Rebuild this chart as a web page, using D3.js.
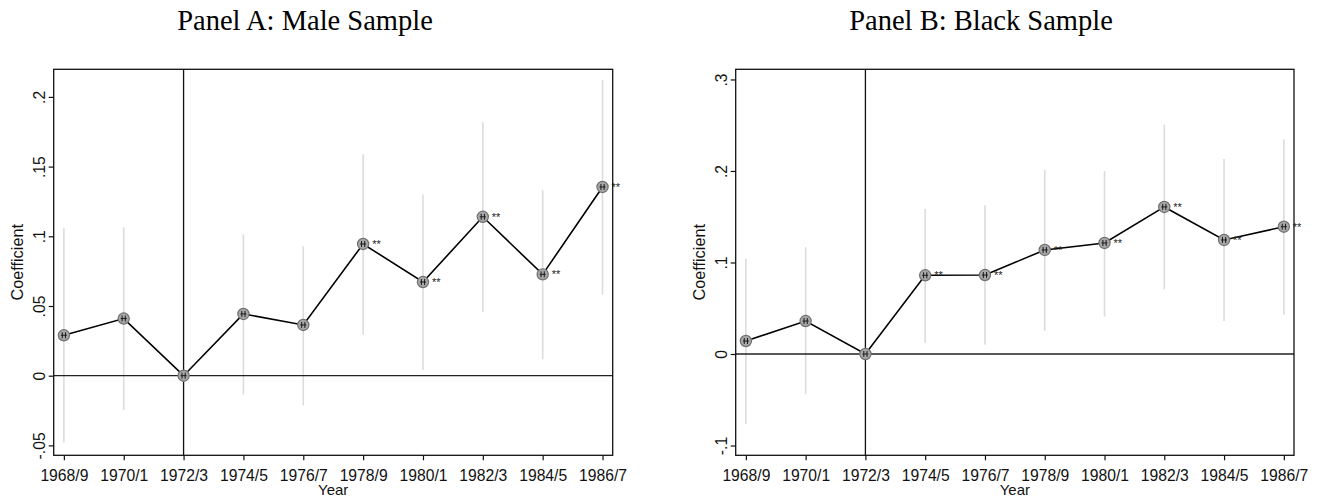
<!DOCTYPE html>
<html>
<head>
<meta charset="utf-8">
<script src="https://cdn.jsdelivr.net/npm/d3@7"></script>
<style>
  body { margin: 0; background: #fff; }
  svg { display: block; }
</style>
</head>
<body>
<svg></svg>
<script>
const svgWidth = 1326
const svgHeight = 500

// data
const years = ["1968/9", "1970/1", "1972/3", "1974/5", "1976/7", "1978/9", "1980/1", "1982/3", "1984/5", "1986/7"]

const maleCoef = [0.029, 0.041, 0, 0.0443, 0.0364, 0.0945, 0.0672, 0.114, 0.0727, 0.1354]
const maleLo = [-0.048, -0.0246, 0, -0.0134, -0.0213, 0.0294, 0.0041, 0.0457, 0.0118, 0.0581]
const maleHi = [0.1057, 0.1065, 0, 0.1014, 0.093, 0.1588, 0.130, 0.1818, 0.1332, 0.2121]
const maleStars = ["", "", "", "", "", "**", "**", "**", "**", "**"]
const maleTicks = [-0.05, 0, 0.05, 0.1, 0.15, 0.2]
const maleTickLabels = ["-.05", "0", ".05", ".1", ".15", ".2"]

const blackCoef = [0.0142, 0.036, 0, 0.086, 0.0863, 0.1137, 0.1213, 0.1607, 0.1246, 0.1391]
const blackLo = [-0.0768, -0.044, 0, 0.0124, 0.0102, 0.0255, 0.0408, 0.0707, 0.036, 0.043]
const blackHi = [0.1042, 0.1166, 0, 0.1585, 0.1625, 0.201, 0.2, 0.2506, 0.2131, 0.2346]
const blackStars = ["", "", "", "**", "**", "**", "**", "**", "**", "**"]
const blackTicks = [-0.1, 0, 0.1, 0.2, 0.3]
const blackTickLabels = ["-.1", "0", ".1", ".2", ".3"]

const sans = "'Liberation Sans', Arial, sans-serif"
const serif = "'Liberation Serif', 'Times New Roman', serif"

const plotTop = 69.3
const plotBottom = 455.3

const panels = [
    {title: "Panel A: Male Sample", coef: maleCoef, lo: maleLo, hi: maleHi, stars: maleStars,
     ticks: maleTicks, tickLabels: maleTickLabels, yDomain: [-0.0571, 0.2198],
     left: 53.7, right: 612.7, titleX: 305, coefX: 22.7},
    {title: "Panel B: Black Sample", coef: blackCoef, lo: blackLo, hi: blackHi, stars: blackStars,
     ticks: blackTicks, tickLabels: blackTickLabels, yDomain: [-0.1107, 0.3111],
     left: 735.7, right: 1294, titleX: 981, coefX: 704.7}
]

const svg = d3.select("svg")
    .attr("width", svgWidth)
    .attr("height", svgHeight)

panels.forEach((p) => {
    const xScale = d3.scalePoint()
        .domain(years)
        .range([p.left, p.right])
        .padding(0.17)
    const yScale = d3.scaleLinear()
        .domain(p.yDomain)
        .range([plotBottom, plotTop])

    const rows = years.map((yr, i) => {
        return {yr: yr, coef: p.coef[i], lo: p.lo[i], hi: p.hi[i], star: p.stars[i]}
    })

    const g = svg.append("g")

    // confidence intervals
    g.selectAll(".ci")
        .data(rows.filter((d) => d.hi !== d.lo))
        .enter()
        .append("line")
        .attr("x1", (d) => xScale(d.yr))
        .attr("x2", (d) => xScale(d.yr))
        .attr("y1", (d) => yScale(d.lo))
        .attr("y2", (d) => yScale(d.hi))
        .attr("stroke", "#dcdcdc")
        .attr("stroke-width", 1.6)

    // reference lines
    g.append("line")
        .attr("x1", xScale(years[2])).attr("x2", xScale(years[2]))
        .attr("y1", plotTop).attr("y2", plotBottom)
        .attr("stroke", "#111").attr("stroke-width", 1.3)
    g.append("line")
        .attr("x1", p.left).attr("x2", p.right)
        .attr("y1", yScale(0)).attr("y2", yScale(0))
        .attr("stroke", "#222").attr("stroke-width", 1.3)

    // connecting line
    const line = d3.line()
        .x((d) => xScale(d.yr))
        .y((d) => yScale(d.coef))
    g.append("path")
        .datum(rows)
        .attr("d", line)
        .attr("fill", "none")
        .attr("stroke", "#000")
        .attr("stroke-width", 1.6)

    // markers
    const m = g.selectAll(".mk")
        .data(rows)
        .enter()
        .append("g")
        .attr("transform", (d) => `translate(${xScale(d.yr)},${yScale(d.coef)})`)
    m.append("circle")
        .attr("r", 5.6)
        .attr("fill", "#a8a8a8")
        .attr("stroke", "#707070")
        .attr("stroke-width", 1.2)
    m.append("path")
        .attr("d", "M-3,0H3M-1.6,-3V3M1.6,-3V3")
        .attr("stroke", "#1a1a1a")
        .attr("stroke-width", 1)
    g.selectAll(".star")
        .data(rows.filter((d) => d.star !== ""))
        .enter()
        .append("text")
        .attr("x", (d) => xScale(d.yr) + 9)
        .attr("y", (d) => yScale(d.coef) + 3.8)
        .attr("font-family", sans)
        .attr("font-size", 11)
        .attr("fill", "#222")
        .text((d) => d.star)

    // frame
    g.append("rect")
        .attr("x", p.left).attr("y", plotTop)
        .attr("width", p.right - p.left).attr("height", plotBottom - plotTop)
        .attr("fill", "none").attr("stroke", "#111").attr("stroke-width", 1.3)

    // axes
    const xAxis = g.append("g")
        .attr("transform", `translate(0,${plotBottom})`)
        .call(d3.axisBottom(xScale).tickSize(5).tickPadding(9.3))
    xAxis.select(".domain").remove()
    xAxis.selectAll("line").attr("stroke", "#111").attr("stroke-width", 1.2)
    xAxis.selectAll("text")
        .attr("font-family", sans).attr("font-size", 15.7).attr("fill", "#111")

    const yAxis = g.append("g")
        .attr("transform", `translate(${p.left},0)`)
        .call(d3.axisLeft(yScale).tickValues(p.ticks)
            .tickFormat((d, i) => p.tickLabels[i]).tickSize(5))
    yAxis.select(".domain").remove()
    yAxis.selectAll("line").attr("stroke", "#111").attr("stroke-width", 1.2)
    yAxis.selectAll("text")
        .attr("font-family", sans).attr("font-size", 15.7).attr("fill", "#111")
        .attr("text-anchor", "middle")
        .attr("transform", "rotate(-90)")
        .attr("x", 0).attr("y", -8.3).attr("dy", 0)

    // axis titles
    g.append("text")
        .attr("x", (p.left + p.right) / 2)
        .attr("y", 495)
        .attr("text-anchor", "middle")
        .attr("font-family", sans).attr("font-size", 15).attr("fill", "#111")
        .text("Year")
    g.append("text")
        .attr("transform", `translate(${p.coefX},${(plotTop + plotBottom) / 2}) rotate(-90)`)
        .attr("text-anchor", "middle")
        .attr("font-family", sans).attr("font-size", 16.3).attr("fill", "#111")
        .text("Coefficient")

    // panel title
    svg.append("text")
        .attr("x", p.titleX)
        .attr("y", 30)
        .attr("text-anchor", "middle")
        .attr("font-family", serif).attr("font-size", 28.5).attr("fill", "#000")
        .text(p.title)
})
</script>
</body>
</html>
